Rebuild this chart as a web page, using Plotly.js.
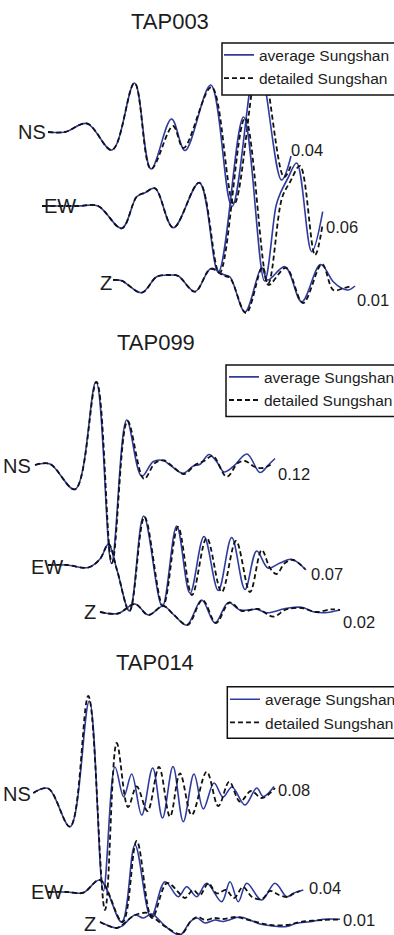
<!DOCTYPE html>
<html>
<head>
<meta charset="utf-8">
<script src="https://cdn.plot.ly/plotly-3.0.1.min.js"></script>
<style>
  html, body { margin: 0; padding: 0; background: #ffffff; }
  #plot { width: 394px; height: 935px; }
</style>
</head>
<body>
<div id="plot"></div>
<script>
// Station records: [time, amplitude] samples of the synthetic waveforms,
// amplitude positive upward, relative to each component's baseline.

// TAP003
const tap003_ns_avg = [[48,0],[65,0],[87,8.5],[112,-18],[134.5,49],[151,-37],[171.5,13],[185,-18.5],[210.7,47],[232,-74.5],[257.5,75],[281.5,-48],[291,-24]];
const tap003_ns_det = [[48,0],[65,0],[87,8.5],[112,-18],[134.5,49],[151,-37],[173,6],[183.5,-16],[211.5,45],[234,-72],[260,75],[284,-45],[291.5,-32]];
const tap003_ew_avg = [[42,0],[78,0],[98,0],[121.7,-22.3],[136.7,9.3],[145,13.3],[155,17.7],[173.3,-21.7],[199.3,23.3],[218.3,-66],[243.5,89],[264.5,-75],[276,0],[280,12],[288,28],[296.7,43],[311.7,-45.7],[322.7,-5.7]];
const tap003_ew_det = [[42,0],[78,0],[98,0],[121.7,-22.3],[136.7,9.3],[145,13.3],[155,17.7],[173.3,-21.7],[199.3,23.3],[219.5,-67],[245,88],[268,-78],[282,8],[290,24],[300,40],[315,-49],[322.5,-19]];
const tap003_z_avg  = [[113,0],[121.7,-0.7],[141.7,-12.7],[156.7,3.3],[170,5],[178.3,4],[195,-11.7],[211,11.5],[223.3,5.5],[230,3],[245,-32],[261.7,12.5],[267.5,0],[285,13.3],[301.7,-21.7],[320.5,15.5],[333.3,-1.7],[341.7,-8.3],[348.3,-10],[355,-6]];
const tap003_z_det  = [[113,0],[121.7,-0.7],[141.7,-12.7],[156.7,3.3],[170,5],[178.3,4],[195,-11.7],[210.5,11],[223.3,4.5],[230,2],[246,-33],[262.5,13],[268.5,-5],[286,12],[303,-23],[322,16],[333.3,-10],[343.3,-8.3],[351.7,-6]];

// TAP099
const tap099_ns_avg = [[35,0],[50,1],[75,-24.3],[96,83.3],[111.5,-98.5],[126.7,45],[141.7,-11.3],[153.3,3.5],[163.3,4.5],[170,0],[183,-8.3],[193.3,-1],[200,0.7],[209,10.5],[216.7,3.3],[224,-7],[233.3,-1.5],[247,11],[260,-7.5],[268.3,0],[275,6.5]];
const tap099_ns_det = [[35,0],[50,1],[75,-24.3],[96.5,83],[112,-98],[127.5,44],[144,-14],[155,2],[164,4.5],[172,-1],[184,-9],[195,0],[204,4],[213,9],[226.7,-11.7],[238,2],[245,4],[255,-2],[263,-3],[272,1]];
const tap099_ew_avg = [[48,0],[66.7,0],[88.3,-2.5],[100,6],[108.5,21],[117,-5],[129.5,-46],[143.7,49],[162.3,-41.5],[176.7,39],[190,-28.3],[204,28.5],[218.3,-25.5],[231.7,27.5],[245,-24.5],[256.7,14],[268,-3],[280,2],[291.7,5.7],[306,-5]];
const tap099_ew_det = [[48,0],[66.7,0],[88.3,-2.5],[100,6],[108.5,21],[117,-5],[129.5,-46],[144.5,48],[163,-41],[178,38],[192,-30],[206.7,27],[221.7,-27],[236,24],[250,-27],[261.7,15],[270,-3],[276.5,-9],[285,2],[293,5],[305,-4]];
const tap099_z_avg  = [[100,0],[118,-1.5],[135,8],[148.3,-3],[163.3,6],[174,-3],[186.7,-13],[201.7,12],[215,-11],[228.3,9.5],[240,2],[256.7,2.7],[266.7,-0.7],[286.7,3.7],[301.7,4.7],[313.3,0.3],[325,-0.7],[340,2]];
const tap099_z_det  = [[100,0],[118,-1.5],[135,8],[148.3,-3],[163.3,6],[174,-3],[187.5,-13],[202.5,12],[216,-11],[229.5,9.5],[242,1],[258,3],[273.3,-4.7],[286,2.5],[302,4],[316,0],[331.7,2.7],[340,2]];

// TAP014
const tap014_ns_avg = [[33.3,0],[48.3,4.5],[70,-33.7],[89.3,92],[103.3,-98],[115,26],[123.7,-3.7],[131.7,19],[141.7,-22],[152.7,25],[162.5,-25],[173,26.5],[183.3,-28.7],[194,19],[203.3,-16],[214,10],[223,-4],[232,6],[245,-12],[256.7,5],[263.3,-3.5],[274,6.5]];
const tap014_ns_det = [[33.3,0],[48.3,4.5],[70,-33.7],[88.3,97],[105,-117],[116.7,50],[128,-14],[136.7,6.5],[147.5,-18],[159,26],[170,-23.7],[180,19.7],[191.7,-22],[206.7,21.3],[218.3,-13],[229.3,11.3],[240,-8.7],[251,2],[262,-5],[275,5]];
const tap014_ew_avg = [[48,0],[66.7,0],[83.3,-0.7],[100,12],[121.7,-30],[135,47],[151,-25],[165,10.3],[178.3,-4.7],[186.7,5.3],[196.7,-4.7],[206.7,8.7],[221.7,-9.7],[230,10.3],[238.3,-9.7],[246.7,8.7],[261.7,-8],[275,8.7],[286.7,-4.7],[293.3,-1.3],[303.3,2]];
const tap014_ew_det = [[48,0],[66.7,0],[83.3,-0.7],[100,12],[122.5,-30],[136.7,51],[152,-26],[167,9],[180,-2],[185,-6],[193,2],[200,-3],[208.3,8.7],[216.7,-1.3],[226,2],[234,-6],[243,5],[252,-5],[262,-7],[270,1],[279,-3],[288,-5],[293,-2],[300,1]];
const tap014_z_avg  = [[100,0],[116.7,-6],[122,-4],[135,7],[143.3,4],[151.7,8],[165,-4],[180,-13],[190,0],[197,4],[205,-1],[215,2],[223.3,0.5],[240,5],[250,2],[260,-2],[273.3,-4],[286.7,-4.5],[296.7,-1.3],[310,0.3],[323.3,2.7],[340,2.7]];
const tap014_z_det  = [[100,0],[116.7,-6],[122,-3],[135,7],[148.3,9],[152,6],[166,-5],[181,-12],[191,1],[197,5],[206,2],[214,4],[223,3],[236,5],[245,3],[260,-1],[270,-3],[287,-3],[300,0],[323,2],[340,2.5]];

// Peak amplitude printed at the end of each trace
const stations   = ['TAP003', 'TAP099', 'TAP014'];
const components = ['NS', 'EW', 'Z'];
const peakLabels = [['0.04', '0.06', '0.01'], ['0.12', '0.07', '0.02'], ['0.08', '0.04', '0.01']];
const seriesNames = ['average Sungshan', 'detailed Sungshan'];

// ---- layout of the three record sections (page pixel units) ----
// legendBox: framed white panel behind each legend; legend: anchor of its entries
const panels = [
  { avg: [tap003_ns_avg, tap003_ew_avg, tap003_z_avg], det: [tap003_ns_det, tap003_ew_det, tap003_z_det],
    base: [132, 206, 280], title: [170, 21], labelRight: [47, 77, 113], labelY: [132, 206, 283],
    peakXY: [[290, 150], [325, 227], [356, 300]],
    legendBox: [222, 43, 95], legend: { x: 0.5558, y: 0.9590 } },
  { avg: [tap099_ns_avg, tap099_ew_avg, tap099_z_avg], det: [tap099_ns_det, tap099_ew_det, tap099_z_det],
    base: [465, 565, 612], title: [155.5, 342.5], labelRight: [32, 63.5, 97], labelY: [465.5, 566.5, 612],
    peakXY: [[277, 474], [310, 574], [342, 622]],
    legendBox: [226, 365, 416.5], legend: { x: 0.5685, y: 0.6147 } },
  { avg: [tap014_ns_avg, tap014_ew_avg, tap014_z_avg], det: [tap014_ns_det, tap014_ew_det, tap014_z_det],
    base: [793, 892, 922], title: [155, 662.5], labelRight: [32, 63.5, 97], labelY: [793.5, 891.5, 924],
    peakXY: [[277, 790], [308, 888], [342, 920]],
    legendBox: [227.3, 686.7, 738.3], legend: { x: 0.5711, y: 0.2698 } }
];

const FONT = 'Liberation Sans, Arial, Helvetica, sans-serif';
const INK = '#1c1c1c';
const BLUE = '#2f3c9e';

const traces = [];
const annotations = [];
const shapes = [];
const layout = {
  width: 394, height: 935,
  margin: { l: 0, r: 0, t: 0, b: 0, pad: 0, autoexpand: false },
  paper_bgcolor: '#ffffff', plot_bgcolor: '#ffffff',
  xaxis: { range: [0, 394], visible: false, fixedrange: true },
  yaxis: { range: [935, 0], visible: false, fixedrange: true },
  showlegend: true,
  annotations: annotations,
  shapes: shapes
};

panels.forEach((p, i) => {
  const legendId = i === 0 ? 'legend' : 'legend' + (i + 1);
  layout[legendId] = {
    x: p.legend.x, y: p.legend.y, xanchor: 'left', yanchor: 'top',
    bgcolor: 'rgba(0,0,0,0)', borderwidth: 0,
    font: { family: FONT, size: 15.5, color: INK },
    tracegroupgap: 0, itemwidth: 30
  };
  // legend frame, open on the right where it runs past the page edge
  shapes.push({
    type: 'rect', xref: 'x', yref: 'y', layer: 'above',
    x0: p.legendBox[0], x1: 400, y0: p.legendBox[1], y1: p.legendBox[2],
    line: { color: '#111111', width: 1.5 }, fillcolor: '#ffffff'
  });

  components.forEach((c, k) => {
    const base = p.base[k];
    const series = [p.avg[k], p.det[k]];
    series.forEach((s, j) => {
      traces.push({
        type: 'scatter', mode: 'lines',
        x: s.map(d => d[0]),
        y: s.map(d => base - d[1]),
        name: seriesNames[j],
        legend: legendId,
        showlegend: k === 0,
        hoverinfo: 'skip',
        line: j === 0
          ? { color: BLUE, width: 1.6, shape: 'spline', smoothing: 1 }
          : { color: '#111111', width: 1.8, dash: '5px,3px', shape: 'spline', smoothing: 1 }
      });
    });

    // component name to the left of the trace
    annotations.push({
      x: p.labelRight[k], y: p.labelY[k], xref: 'x', yref: 'y',
      text: c, showarrow: false, xanchor: 'right', yanchor: 'middle',
      font: { family: FONT, size: 20, color: INK }, borderpad: 0
    });
    // peak amplitude at the end of the trace
    annotations.push({
      x: p.peakXY[k][0], y: p.peakXY[k][1], xref: 'x', yref: 'y',
      text: peakLabels[i][k], showarrow: false, xanchor: 'left', yanchor: 'middle',
      font: { family: FONT, size: 16.5, color: INK }, borderpad: 0
    });
  });

  annotations.push({
    x: p.title[0], y: p.title[1], xref: 'x', yref: 'y',
    text: stations[i], showarrow: false, xanchor: 'center', yanchor: 'middle',
    font: { family: FONT, size: 22, color: INK }, borderpad: 0
  });
});

Plotly.newPlot('plot', traces, layout, { staticPlot: true, displayModeBar: false });
</script>
</body>
</html>
